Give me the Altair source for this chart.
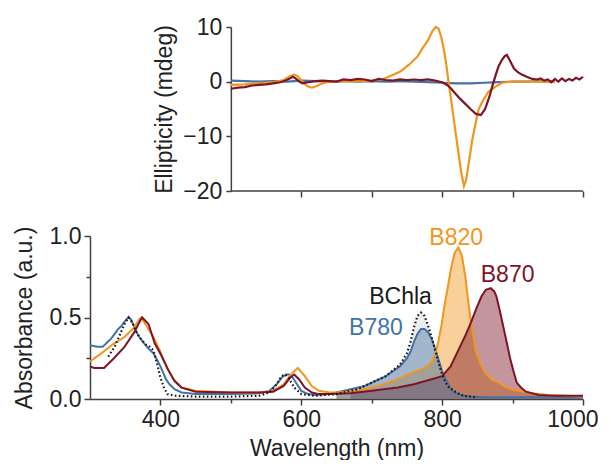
import altair as alt
import pandas as pd

FONT = "Liberation Sans"
FS = 23
AX = "#404040"
C_BLUE = "#4272A6"
C_ORANGE = "#F0961E"
C_RED = "#7D1526"
C_BLACK = "#1A1A1A"

# ---------------- Absorbance spectra ----------------
b780_wl = [300, 310, 318, 325, 330, 335, 340, 345, 350, 354, 358, 362, 366, 370, 375, 383, 390, 394, 400,
           404, 408, 413, 420, 430, 450, 500, 540, 555, 565, 572, 578, 583, 588, 594, 600, 610, 620, 640,
           650, 670, 690, 700, 710, 720, 730, 740, 750, 755, 760, 765, 770, 775, 780, 785, 790, 795, 800,
           805, 810, 815, 820, 830, 840, 860, 900, 950, 1000]
b780_abs = [0.33, 0.32, 0.32, 0.35, 0.37, 0.40, 0.43, 0.45, 0.48, 0.50, 0.49, 0.45, 0.41, 0.38, 0.35, 0.31,
            0.28, 0.25, 0.20, 0.16, 0.12, 0.09, 0.06, 0.04, 0.03, 0.03, 0.035, 0.05, 0.09, 0.13, 0.15, 0.15,
            0.13, 0.09, 0.05, 0.03, 0.025, 0.03, 0.04, 0.06, 0.08, 0.10, 0.12, 0.14, 0.17, 0.20, 0.25, 0.29,
            0.35, 0.40, 0.43, 0.43, 0.41, 0.37, 0.31, 0.24, 0.17, 0.12, 0.08, 0.05, 0.035, 0.02, 0.015, 0.01,
            0.01, 0.01, 0.01]

b820_wl = [300, 316, 334, 349, 363, 370, 373, 380, 390, 399, 409, 419, 430, 450, 500, 540, 560, 575, 585,
           595, 605, 615, 625, 640, 650, 666, 690, 713, 730, 751, 775, 784, 790, 794, 799, 804, 809, 813,
           818, 823, 828, 833, 837, 840, 844, 847, 854, 861, 870, 880, 892, 904, 927, 950, 1000]
b820_abs = [0.23, 0.28, 0.34, 0.38, 0.44, 0.49, 0.50, 0.45, 0.38, 0.30, 0.19, 0.12, 0.07, 0.05, 0.04,
            0.04, 0.05, 0.09, 0.15, 0.19, 0.14, 0.08, 0.05, 0.04, 0.04, 0.045, 0.06, 0.085, 0.11, 0.15,
            0.19, 0.22, 0.27, 0.34, 0.45, 0.59, 0.71, 0.81, 0.90, 0.93, 0.88, 0.75, 0.60, 0.50, 0.40, 0.30,
            0.22, 0.16, 0.12, 0.10, 0.07, 0.055, 0.035, 0.025, 0.015]

b870_wl = [300, 306, 320, 334, 349, 363, 370, 374, 383, 392, 401, 411, 420, 430, 450, 500, 540, 560, 575,
           584, 590, 597, 605, 615, 625, 640, 670, 700, 737, 760, 784, 800, 812, 823, 832, 841, 849, 856,
           862, 869, 874, 877, 882, 887, 892, 897, 902, 906, 912, 919, 937, 960, 1000]
b870_abs = [0.20, 0.19, 0.19, 0.25, 0.32, 0.41, 0.47, 0.50, 0.46, 0.34, 0.27, 0.18, 0.11, 0.07, 0.045,
            0.04, 0.04, 0.045, 0.08, 0.13, 0.15, 0.12, 0.07, 0.04, 0.03, 0.03, 0.035, 0.05, 0.07, 0.09,
            0.12, 0.14, 0.20, 0.30, 0.38, 0.47, 0.56, 0.63, 0.67, 0.68, 0.66, 0.63, 0.54, 0.44, 0.34, 0.24,
            0.16, 0.10, 0.07, 0.045, 0.025, 0.02, 0.02]

bchla_wl = [326, 335, 345, 350, 355, 360, 365, 370, 380, 385, 390, 395, 400, 405, 410, 420, 450, 500, 540,
            555, 565, 572, 577, 582, 590, 600, 620, 650, 680, 700, 720, 740, 750, 755, 760, 765, 770, 775,
            780, 785, 790, 795, 800, 805, 810, 820, 830, 850]
bchla_abs = [0.26, 0.32, 0.42, 0.47, 0.50, 0.47, 0.42, 0.38, 0.33, 0.32, 0.30, 0.22, 0.13, 0.07, 0.03,
             0.02, 0.015, 0.015, 0.02, 0.04, 0.09, 0.14, 0.15, 0.13, 0.07, 0.03, 0.02, 0.03, 0.06, 0.10,
             0.14, 0.21, 0.28, 0.35, 0.44, 0.51, 0.53, 0.51, 0.45, 0.38, 0.30, 0.22, 0.15, 0.10, 0.07, 0.04,
             0.02, 0.01]

# ---------------- CD spectra ----------------
cd820_wl = [500, 520, 540, 560, 575, 585, 590, 595, 602, 608, 615, 622, 630, 640, 660, 680, 700, 715, 724,
            740, 753, 765, 772, 780, 786, 791, 795, 799, 803, 806, 809, 813, 817, 822, 827, 831, 834, 838,
            843, 848, 852, 857, 866, 876, 885, 900, 930, 960]
cd820_val = [-0.6, -0.5, -0.3, -0.1, 0.3, 1.1, 1.3, 1.0, 0.0, -0.8, -1.1, -0.8, -0.3, 0.0, 0.1, 0.1, 0.2,
             0.4, 0.9, 1.8, 3.1, 4.6, 6.1, 7.6, 9.2, 10.0, 9.7, 8.0, 5.5, 3.0, 0.0, -3.5, -7.3, -12.0, -16.5,
             -19.1, -18.0, -14.7, -10.5, -7.3, -5.0, -3.7, -1.8, -0.9, -0.2, 0.0, 0.0, 0.0]

cd870_wl = [500, 510, 520, 530, 540, 550, 560, 570, 578, 584, 588, 592, 597, 602, 610, 620, 630, 640, 650,
            660, 670, 680, 690, 700, 710, 720, 730, 740, 750, 760, 770, 780, 790, 800, 807, 813, 819, 826,
            834, 841, 848, 855, 861, 867, 872, 876, 880, 885, 889, 892, 896, 902, 907, 913, 920, 928, 935,
            940, 945, 950, 955, 960, 965, 970, 975, 980, 985, 990, 995, 1000]
cd870_val = [-1.3, -1.1, -1.0, -0.7, -0.6, -0.5, -0.3, -0.1, 0.2, 0.6, 0.9, 0.6, 0.0, -0.3, -0.1, 0.1, 0.2,
             0.1, 0.0, 0.4, 0.3, 0.5, 0.4, 0.1, 0.5, 0.3, 0.2, 0.4, 0.3, 0.4, 0.3, 0.4, 0.2, -0.1, -0.6,
             -1.3, -2.2, -3.2, -4.2, -5.1, -5.9, -6.1, -5.0, -2.8, -0.5, 1.2, 2.8, 4.0, 4.7, 4.9, 3.9, 2.4,
             1.8, 1.3, 0.9, 0.5, 0.4, 0.6, 0.2, 0.4, -0.1, 0.5, 0.0, 0.6, 0.1, 0.5, 0.2, 0.7, 0.4, 0.9]

cd780_wl = [500, 520, 540, 560, 580, 600, 620, 640, 660, 680, 700, 720, 740, 760, 780, 800, 820, 840, 860,
            880, 900, 920, 940, 960]
cd780_val = [0.2, 0.1, 0.0, 0.1, 0.0, 0.2, 0.1, 0.0, 0.1, 0.0, 0.1, 0.0, 0.1, 0.0, -0.1, -0.2, -0.3, -0.3,
             -0.2, -0.1, 0.0, 0.0, 0.1, 0.0]

# ---------------- Labels ----------------
label_text = ["B820", "B870", "BChla", "B780"]
label_wl = [820, 893, 741, 706]
label_abs = [0.99, 0.76, 0.626, 0.436]
label_color = [C_ORANGE, C_RED, C_BLACK, C_BLUE]

series = ["B780", "B820", "B870", "BChla"]
series_colors = [C_BLUE, C_ORANGE, C_RED, C_BLACK]

def long(name, xs, ys, col):
    return pd.DataFrame({"series": name, "wl": xs, col: ys})

abs_df = pd.concat([
    long("B780", b780_wl, b780_abs, "A"),
    long("B820", b820_wl, b820_abs, "A"),
    long("B870", b870_wl, b870_abs, "A"),
    long("BChla", bchla_wl, bchla_abs, "A"),
], ignore_index=True)

cd_df = pd.concat([
    long("B780", cd780_wl, cd780_val, "cd"),
    long("B820", cd820_wl, cd820_val, "cd"),
    long("B870", cd870_wl, cd870_val, "cd"),
], ignore_index=True)

lab_df = pd.DataFrame({"label": label_text, "wl": label_wl, "A": label_abs, "color": label_color})

color_scale = alt.Scale(domain=series, range=series_colors)
x_scale = alt.Scale(domain=[300, 1000], nice=False, zero=False)

W = 493
OFFSET = -W * 200 / 700

# ---------------- Top (CD) panel ----------------
top_x_axis = alt.Axis(values=[600, 700, 800, 900, 1000], labels=False, domain=False, grid=False,
                      tickSize=6, tickWidth=1.5, tickColor=AX, title=None)
top_y_axis = alt.Axis(values=[-20, -15, -10, -5, 0, 5, 10],
                      labelExpr="datum.value % 10 === 0 ? datum.label : ''",
                      offset=OFFSET, grid=False, domainColor=AX, domainWidth=1.5,
                      tickColor=AX, tickWidth=1.5,
                      tickSize={"condition": {"test": "datum.value % 10 !== 0", "value": 3}, "value": 5},
                      labelFont=FONT, labelFontSize=FS, labelColor="#222", labelPadding=4,
                      title="Ellipticity (mdeg)", titleFont=FONT, titleFontSize=FS,
                      titleFontWeight="normal", titleColor="#222", titlePadding=6)
top_y_scale = alt.Scale(domain=[-20, 10], nice=False)

top_lines = alt.Chart(cd_df).mark_line(strokeWidth=2.2).encode(
    x=alt.X("wl:Q", scale=x_scale, axis=top_x_axis),
    y=alt.Y("cd:Q", scale=top_y_scale, axis=top_y_axis),
    color=alt.Color("series:N", scale=color_scale, legend=None),
)
top_rule = alt.Chart(cd_df).mark_rule(color=AX, strokeWidth=1.5).encode(
    x=alt.X("min(wl):Q", scale=x_scale, axis=top_x_axis),
    x2="max(wl):Q",
    y=alt.datum(-20, scale=top_y_scale),
)
top = alt.layer(top_rule, top_lines).properties(width=W, height=164)

# ---------------- Bottom (absorbance) panel ----------------
bot_x_axis = alt.Axis(values=[400, 500, 600, 700, 800, 900, 1000], format="d",
                      labelExpr="datum.value % 200 === 0 ? datum.label : ''",
                      labelFlush=True, labelFlushOffset=15,
                      grid=False, domainColor=AX, domainWidth=1.5, tickColor=AX, tickWidth=1.5,
                      tickSize={"condition": {"test": "datum.value % 200 !== 0", "value": 4}, "value": 6},
                      labelFont=FONT, labelFontSize=FS, labelColor="#222", labelPadding=3,
                      title="Wavelength (nm)", titleFont=FONT, titleFontSize=FS,
                      titleFontWeight="normal", titleColor="#222", titlePadding=6)
bot_y_axis = alt.Axis(values=[0, 0.25, 0.5, 0.75, 1.0], format=".1f",
                      labelExpr="(datum.value * 2) % 1 === 0 ? datum.label : ''",
                      grid=False, domainColor=AX, domainWidth=1.5, tickColor=AX, tickWidth=1.5,
                      tickSize={"condition": {"test": "(datum.value * 2) % 1 !== 0", "value": 4}, "value": 6},
                      labelFont=FONT, labelFontSize=FS, labelColor="#222", labelPadding=3,
                      title="Absorbance (a.u.)", titleFont=FONT, titleFontSize=FS,
                      titleFontWeight="normal", titleColor="#222", titlePadding=13)
bot_y_scale = alt.Scale(domain=[0, 1.0], nice=False)

base = alt.Chart(abs_df)
bx = alt.X("wl:Q", scale=x_scale, axis=bot_x_axis)
by = alt.Y("A:Q", scale=bot_y_scale, axis=bot_y_axis)

def fill(name, color, op):
    return base.transform_filter(
        (alt.datum.series == name) & (alt.datum.wl >= 650)
    ).mark_area(color=color, opacity=op).encode(x=bx, y=by)

fills = [
    fill("B820", C_ORANGE, 0.45),
    fill("B870", C_RED, 0.45),
    fill("B780", C_BLUE, 0.45),
    fill("BChla", "#888888", 0.15),
]

solid = base.transform_filter(alt.datum.series != "BChla").mark_line(strokeWidth=2).encode(
    x=bx, y=by, color=alt.Color("series:N", scale=color_scale, legend=None),
    order=alt.Order("wl:Q"),
)
dotted = base.transform_filter(alt.datum.series == "BChla").mark_line(
    strokeWidth=2.2, strokeDash=[1.6, 2.4], color=C_BLACK
).encode(x=bx, y=by)

labels = alt.Chart(lab_df).mark_text(font=FONT, fontSize=FS, align="center", baseline="middle").encode(
    x=alt.X("wl:Q", scale=x_scale, axis=bot_x_axis),
    y=alt.Y("A:Q", scale=bot_y_scale, axis=bot_y_axis),
    text="label:N",
    color=alt.Color("color:N", scale=None),
)

bottom = alt.layer(*fills, solid, dotted, labels).properties(width=W, height=163)

chart = alt.vconcat(top, bottom, spacing=22).properties(
    padding={"left": 5, "top": 8, "right": 0, "bottom": 0},
    background="white",
).configure_view(stroke=None)

chart.save("out.html", embed_options={"renderer": "svg", "actions": False})
